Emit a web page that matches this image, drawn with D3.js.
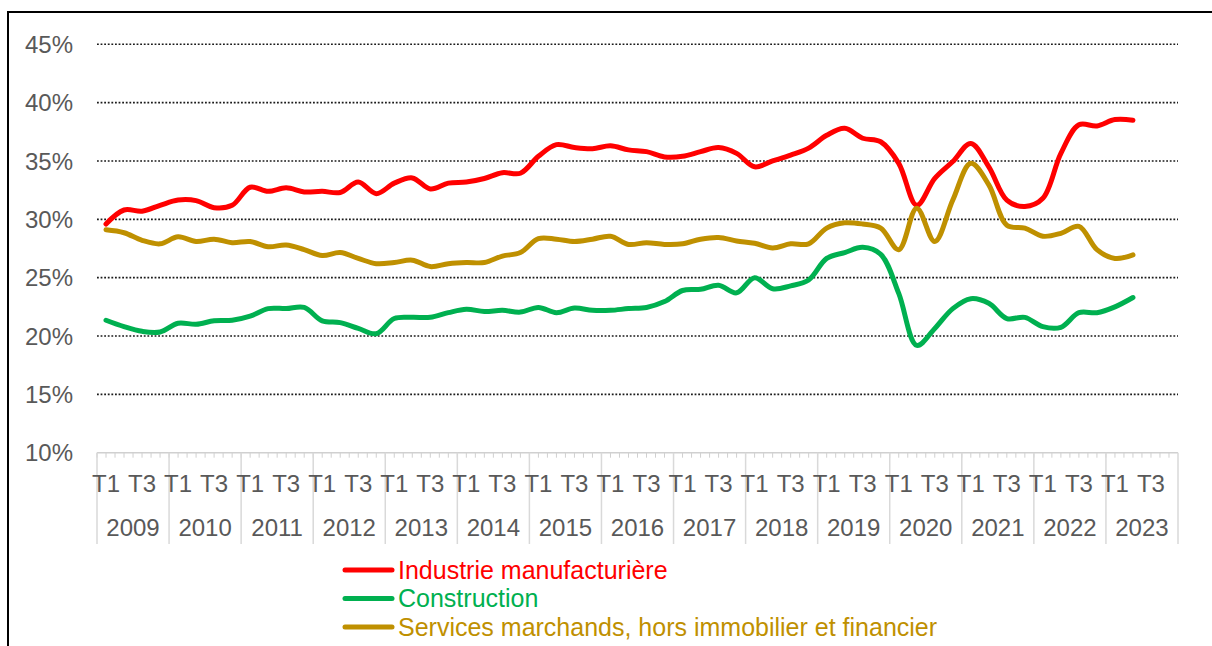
<!DOCTYPE html>
<html>
<head>
<meta charset="utf-8">
<script src="https://cdn.jsdelivr.net/npm/d3@7"></script>
<style>
  html, body { margin: 0; padding: 0; background: #fff; }
  svg { display: block; font-family: "Liberation Sans", Arial, sans-serif; }
</style>
</head>
<body>
<svg id="chart" width="1212" height="646"></svg>
<script>
// chart data
const years = ['2009', '2010', '2011', '2012', '2013', '2014', '2015', '2016', '2017', '2018', '2019', '2020', '2021', '2022', '2023'];
const quarters = ['T1', 'T2', 'T3', 'T4'];
const shown_quarters = ['T1', 'T3'];
const y_ticks = [10, 15, 20, 25, 30, 35, 40, 45];

// 2009 T1 -> 2023 T2, in %
const industrie = [29.6, 30.8, 30.7, 31.2, 31.65, 31.6, 31.0, 31.2, 32.75, 32.4, 32.7, 32.35, 32.4, 32.3, 33.2, 32.2, 33.1, 33.55, 32.6, 33.1, 33.2, 33.5,
    34.0, 33.95, 35.4, 36.4, 36.15, 36.05, 36.3, 35.95, 35.8, 35.35, 35.4, 35.8, 36.15, 35.65, 34.5, 35.0, 35.5, 36.1, 37.2, 37.8, 36.95,
    36.65, 34.8, 31.2, 33.5, 34.95, 36.5, 34.5, 31.65, 31.1, 31.8, 35.65, 38.1, 38.0, 38.55, 38.5];
const construction = [21.35, 20.8, 20.4, 20.35, 21.1, 21.0, 21.3, 21.35, 21.7, 22.35, 22.35, 22.45, 21.3, 21.15, 20.65, 20.2, 21.5, 21.6, 21.6, 22.0, 22.3, 22.1,
    22.2, 22.05, 22.45, 22.0, 22.4, 22.2, 22.2, 22.35, 22.45, 22.95, 23.9, 24.0, 24.35, 23.7, 25.0, 24.05, 24.3, 24.8, 26.65, 27.15, 27.6,
    27.0, 23.65, 19.2, 20.65, 22.35, 23.2, 22.8, 21.5, 21.6, 20.8, 20.75, 22.0, 22.0, 22.5, 23.3];
const services = [29.1, 28.85, 28.2, 27.9, 28.5, 28.1, 28.3, 28.0, 28.1, 27.65, 27.8, 27.4, 26.9, 27.15, 26.65, 26.2, 26.3, 26.5, 25.95, 26.2, 26.3, 26.3,
    26.85, 27.15, 28.35, 28.3, 28.1, 28.3, 28.55, 27.85, 28.0, 27.85, 27.9, 28.3, 28.45, 28.15, 27.95, 27.55, 27.9, 27.9, 29.25, 29.7, 29.6,
    29.25, 27.4, 30.95, 28.1, 31.65, 34.8, 32.95, 29.5, 29.25, 28.55, 28.8, 29.4, 27.4, 26.65, 26.95];

const series_names = ['Industrie manufacturière', 'Construction', 'Services marchands, hors immobilier et financier'];
const series_values = [industrie, construction, services];
const series_colors = ['#ff0000', '#00b050', '#bf9000'];

// layout
const plot_left = 97;
const plot_right = 1178;
const plot_top = 44.3;
const plot_bottom = 452.7;
const label_color = '#595959';
const axis_font = '24px';

let svg = d3.select('#chart');

// frame
svg.append('path')
    .attr('d', 'M8,646 L8,12 L1212,12')
    .attr('fill', 'none')
    .attr('stroke', '#000')
    .attr('stroke-width', 2);

// scales
let categories = [];
years.forEach((y) => quarters.forEach((q) => categories.push(y + '-' + q)));

let x_scale = d3.scaleBand()
    .domain(categories)
    .range([plot_left, plot_right])
    .padding(0);

let y_scale = d3.scaleLinear()
    .domain([10, 45])
    .range([plot_bottom, plot_top]);

const bw = x_scale.bandwidth();

// gridlines
svg.append('g')
    .selectAll('line')
    .data(y_ticks.filter((d) => d > 10))
    .enter()
    .append('line')
    .attr('x1', plot_left)
    .attr('x2', plot_right)
    .attr('y1', (d) => y_scale(d))
    .attr('y2', (d) => y_scale(d))
    .attr('stroke', '#1a1a1a')
    .attr('stroke-width', 1.6)
    .attr('stroke-dasharray', '1.8,1.8');

// y labels
svg.append('g')
    .selectAll('text')
    .data(y_ticks)
    .enter()
    .append('text')
    .attr('x', 73)
    .attr('y', (d) => y_scale(d))
    .attr('dy', '0.36em')
    .attr('text-anchor', 'end')
    .style('font-size', axis_font)
    .style('fill', label_color)
    .text((d) => d + '%');

// x axis line + small ticks
let x_axis = svg.append('g');
x_axis.append('line')
    .attr('x1', plot_left)
    .attr('x2', plot_right)
    .attr('y1', plot_bottom)
    .attr('y2', plot_bottom)
    .attr('stroke', '#d0d0d0')
    .attr('stroke-width', 1.5);

x_axis.selectAll('.minor')
    .data(categories)
    .enter()
    .append('path')
    .attr('d', (d) => {
        let x0 = x_scale(d);
        return `M${x0},${plot_bottom} v5 M${x0 + bw / 2},${plot_bottom} v5`;
    })
    .attr('stroke', '#d0d0d0')
    .attr('stroke-width', 1);

// year separators
x_axis.selectAll('.sep')
    .data(years.concat(['end']))
    .enter()
    .append('line')
    .attr('x1', (d) => d == 'end' ? plot_right : x_scale(d + '-T1'))
    .attr('x2', (d) => d == 'end' ? plot_right : x_scale(d + '-T1'))
    .attr('y1', plot_bottom)
    .attr('y2', 544)
    .attr('stroke', '#d9d9d9')
    .attr('stroke-width', 1.5);

// quarter labels
x_axis.selectAll('.q')
    .data(categories.filter((d) => shown_quarters.includes(d.split('-')[1])))
    .enter()
    .append('text')
    .attr('x', (d) => x_scale(d) + bw / 2)
    .attr('y', 491.5)
    .attr('text-anchor', 'middle')
    .style('font-size', axis_font)
    .style('fill', label_color)
    .text((d) => d.split('-')[1]);

// year labels
x_axis.selectAll('.y')
    .data(years)
    .enter()
    .append('text')
    .attr('x', (d) => x_scale(d + '-T1') + bw * 2)
    .attr('y', 536)
    .attr('text-anchor', 'middle')
    .style('font-size', axis_font)
    .style('fill', label_color)
    .text((d) => d);

// lines
let line = d3.line()
    .x((d, i) => x_scale(categories[i]) + bw / 2)
    .y((d) => y_scale(d))
    .curve(d3.curveCatmullRom.alpha(0.5));

svg.append('g')
    .selectAll('path')
    .data(series_values)
    .enter()
    .append('path')
    .attr('d', (d) => line(d))
    .attr('fill', 'none')
    .attr('stroke', (d, i) => series_colors[i])
    .attr('stroke-width', 5)
    .attr('stroke-linecap', 'round')
    .attr('stroke-linejoin', 'round');

// legend
let legend = svg.append('g');
legend.selectAll('line')
    .data(series_names)
    .enter()
    .append('line')
    .attr('x1', 345)
    .attr('x2', 392)
    .attr('y1', (d, i) => 570 + i * 28.5)
    .attr('y2', (d, i) => 570 + i * 28.5)
    .attr('stroke', (d, i) => series_colors[i])
    .attr('stroke-width', 5)
    .attr('stroke-linecap', 'round');

legend.selectAll('text')
    .data(series_names)
    .enter()
    .append('text')
    .attr('x', 398)
    .attr('y', (d, i) => 578.5 + i * 28.5)
    .style('font-size', '25px')
    .style('fill', (d, i) => series_colors[i])
    .text((d) => d);
</script>
</body>
</html>
